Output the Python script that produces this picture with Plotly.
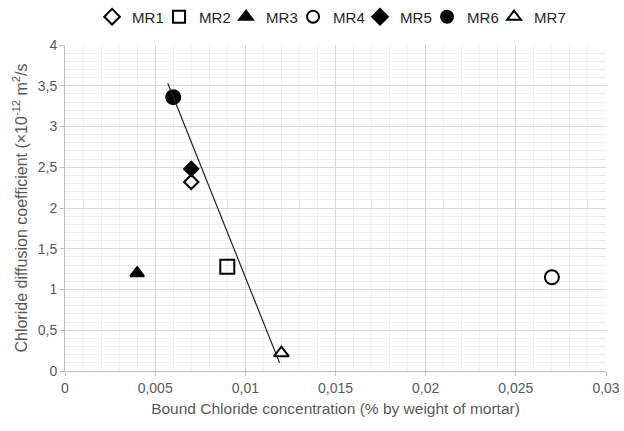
import plotly.graph_objects as go

names = ["MR1", "MR2", "MR3", "MR4", "MR5", "MR6", "MR7"]
bound_cl = [0.007, 0.009, 0.004, 0.027, 0.007, 0.006, 0.012]
diff_coef = [2.32, 1.28, 1.20, 1.15, 2.48, 3.36, 0.22]
symbols = ["diamond-open", "square-open", "triangle-up", "circle-open", "diamond", "circle", "triangle-up-open"]
sizes = [11, 14, 12, 14, 11, 14, 13]

trend_x = [0.0057, 0.0119]
trend_y = [3.53, 0.10]

fig = go.Figure()
for n, x, y, s, sz in zip(names, bound_cl, diff_coef, symbols, sizes):
    fig.add_trace(go.Scatter(x=[x], y=[y], mode="markers", name=n,
                             marker=dict(symbol=s, size=sz, color="black",
                                         line=dict(color="black", width=2))))
fig.add_trace(go.Scatter(x=trend_x, y=trend_y, mode="lines", showlegend=False,
                         line=dict(color="#222222", width=1.2)))
# empty spacer entry so the last legend label is not clipped
fig.add_trace(go.Scatter(x=[None], y=[None], mode="markers", name=" ", showlegend=True,
                         hoverinfo="skip",
                         marker=dict(color="rgba(0,0,0,0)", line=dict(width=0))))

fig.update_layout(
    width=624, height=431,
    margin=dict(l=65, r=18, t=45, b=60, autoexpand=False),
    plot_bgcolor="white", paper_bgcolor="white",
    separators=", ",
    font=dict(family="Liberation Sans, Arial, sans-serif", size=14, color="#595959"),
    legend=dict(orientation="h", x=0.05, xanchor="left", y=1.086, yanchor="middle",
                font=dict(size=15, color="#262626"), itemwidth=30,
                entrywidth=22, entrywidthmode="pixels",
                tracegroupgap=0, itemsizing="constant", itemclick=False),
    xaxis=dict(range=[0, 0.03], dtick=0.005, tick0=0, showgrid=True, gridcolor="#d9d9d9",
               minor=dict(dtick=0.001, showgrid=True, gridcolor="#efefef"),
               showline=True, linecolor="#bfbfbf", ticks="outside", tickcolor="#bfbfbf",
               ticklen=4, zeroline=False, mirror=False, automargin=False,
               title=dict(text="Bound Chloride concentration (% by weight of mortar)",
                          font=dict(size=15.5, color="#595959"), standoff=8)),
    yaxis=dict(range=[0, 4], dtick=0.5, tick0=0, showgrid=True, gridcolor="#d9d9d9",
               minor=dict(dtick=0.1, showgrid=True, gridcolor="#efefef"),
               showline=True, linecolor="#bfbfbf", ticks="outside", tickcolor="#bfbfbf",
               ticklen=4, zeroline=False, automargin=False,
               title=dict(text="Chloride diffusion coefficient (×10<sup>-12</sup> m<sup>2</sup>/s",
                          font=dict(size=16, color="#595959"), standoff=6)),
)
fig.write_html("out.html", config={"displayModeBar": False},
               post_script="document.body.style.margin='0';document.body.style.overflow='hidden';")
